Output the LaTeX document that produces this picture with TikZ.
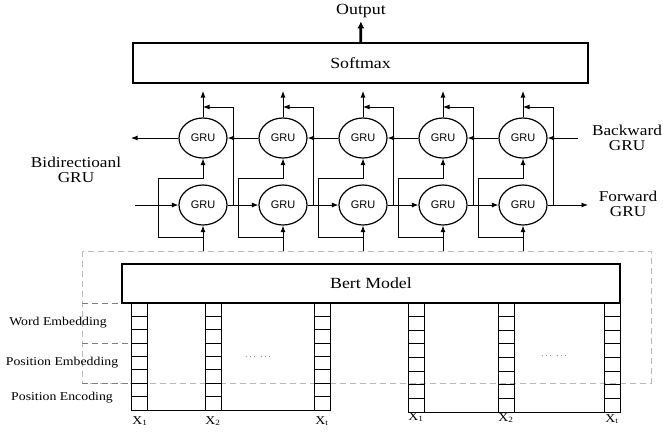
\documentclass[tikz,border=0pt]{standalone}
\usepackage{fontspec}
\setmainfont{Liberation Serif}[FakeStretch=1.15]
\setsansfont{Liberation Sans}
\usetikzlibrary{shapes.geometric,arrows.meta}

\begin{document}
\begin{tikzpicture}[
x=1pt,y=-1pt,
%scale=.5, every node/.style={scale=0.6},
gru/.style={ellipse,draw,line width=1.2pt,minimum width=48pt,minimum height=40pt,inner sep=0pt,font=\sffamily\fontsize{11}{12}\selectfont},
layer/.style={draw,line width=1.4pt,font=\fontsize{15.5}{15.5}\selectfont},
lab/.style={align=center,font=\fontsize{15}{15}\selectfont},
emb/.style={font=\fontsize{12}{14}\selectfont},
link/.style={line width=0.9pt},
arr/.style={link,-{Latex[length=6.5pt,width=5pt]}},
]
\useasboundingbox (0,0) rectangle (663,432);

\node [lab,font=\fontsize{15.5}{15.5}\selectfont] (out) at (361,11) {Output};
\node [layer,minimum width=455pt,minimum height=40pt] (soft) at (360.5,63) {Softmax};
\draw [line width=2.8pt,-{Latex[length=7pt,width=7pt]}] (soft) -- (out);

% bert part with its dashed frame
\draw [gray!55,dashed,dash pattern=on 6pt off 4pt,line width=0.8pt] (82,251) rectangle (651,383);
\node [layer,minimum width=498pt,minimum height=39pt,fill=white] (bert) at (371,283.5) {Bert Model};
\draw [gray,dashed,dash pattern=on 6pt off 4pt,line width=0.8pt] (82,303) -- (122,303);
\draw [gray,dashed,dash pattern=on 6pt off 4pt,line width=0.8pt] (82,343) -- (131,343);
\draw [gray,dashed,dash pattern=on 6pt off 4pt,line width=0.8pt] (82,383) -- (131,383);

\node [emb] (we) at (58,323) {Word Embedding};
\node [emb] (pe) at (62,363) {Position Embedding};
\node [emb] (pc) at (62,398) {Position Encoding};

% token columns
\foreach \x/\b in {131/410,205/410,314/410,408/412,498/412,604/412}{
	\draw [link] (\x,303) rectangle (\x+16,\b);
	\foreach \k in {1,...,7}
		\draw [link] (\x,{303+\k*(\b-303)/8}) -- ++(16,0);
}
\draw [link] (131,410) -- (330,410);
\draw [link] (408,412) -- (620,412);
\node (dotsa) at (258,357) {\fontsize{9}{9}\selectfont$\cdots\;\cdots$};
\node (dotsb) at (554,356) {\fontsize{9}{9}\selectfont$\cdots\;\cdots$};

\foreach \n/\x/\y/\s in {xa/140/421/1,xb/213/421/2,xc/322/421/t,xd/416/417/1,xe/506/418/2,xf/612/419/t}
	\node [font=\fontsize{12}{12}\selectfont] (\n) at (\x,\y) {X\textsubscript{\s}};

% the two GRU rows
\node [lab] (bidi) at (76,169.5) {Bidirectioanl\\GRU};
\node [lab] (bwd) at (627,137.5) {Backward\\GRU};
\node [lab] (fwd) at (628,204) {Forward\\GRU};

\foreach \i/\x in {1/203,2/283,3/363,4/443,5/523}{
	\node [gru] (b\i) at (\x,138) {GRU};
	\node [gru] (f\i) at (\x,205) {GRU};
	\coordinate (in\i) at (\x,251);
	\coordinate (j\i) at (\x,237);
	\coordinate (o\i) at (\x,91);
	\coordinate (k\i) at (\x,107);
	\coordinate (u\i) at (\x+30,205);
	\draw [arr] (in\i) -- (f\i);
	\draw [arr] (j\i) -- ++(-45,0) -- ++(0,-59) -| (b\i);
	\draw [arr] (b\i) -- (o\i);
	\draw [arr] (u\i) |- (k\i);
}

\coordinate (fin) at (135,205);
\coordinate (fout) at (588,205);
\coordinate (bin) at (578,138);
\coordinate (bout) at (131,138);
\draw [arr] (fin) -- (f1);
\draw [arr] (f1) -- (f2);
\draw [arr] (f2) -- (f3);
\draw [arr] (f3) -- (f4);
\draw [arr] (f4) -- (f5);
\draw [arr] (f5) -- (fout);
\draw [arr] (bin) -- (b5);
\draw [arr] (b5) -- (b4);
\draw [arr] (b4) -- (b3);
\draw [arr] (b3) -- (b2);
\draw [arr] (b2) -- (b1);
\draw [arr] (b1) -- (bout);
\end{tikzpicture}
\end{document}
